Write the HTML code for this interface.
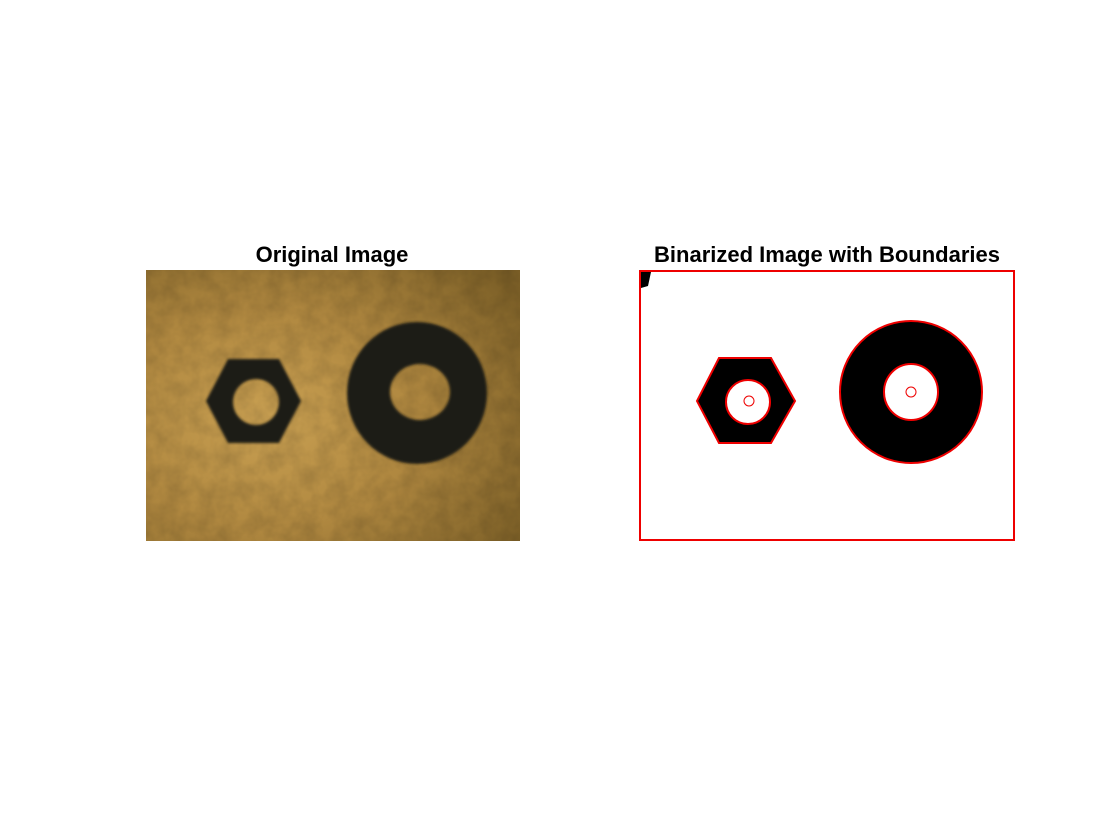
<!DOCTYPE html>
<html><head><meta charset="utf-8"><style>
html,body{margin:0;padding:0;background:#fff;}
svg{display:block;font-family:"Liberation Sans",Arial,sans-serif;}
</style></head><body>
<svg width="1120" height="840" viewBox="0 0 1120 840">
<defs>
<radialGradient id="bg" cx="0.32" cy="0.55" r="0.8">
<stop offset="0" stop-color="#c9a052"/>
<stop offset="0.5" stop-color="#b08840"/>
<stop offset="1" stop-color="#7e6128"/>
</radialGradient>
<filter id="blur"><feGaussianBlur stdDeviation="1.2"/></filter>
<filter id="noise" x="0" y="0" width="1" height="1">
<feTurbulence type="fractalNoise" baseFrequency="0.06" numOctaves="3" seed="4"/>
<feColorMatrix type="matrix" values="0 0 0 0 0  0 0 0 0 0  0 0 0 0 0  0 0 0 0.35 -0.1"/>
<feComposite in2="SourceGraphic" operator="in"/>
</filter>
</defs>

<text x="332" y="262" font-size="22" font-weight="bold" text-anchor="middle">Original Image</text>
<g>
<rect x="146" y="270" width="374" height="271" fill="url(#bg)"/>
<rect x="146" y="270" width="374" height="271" fill="#3a2a10" filter="url(#noise)" opacity="0.6"/>
<g filter="url(#blur)">
<path d="M206,401 L228,359 L279,359 L301,401 L279,443 L228,443 Z M233,402 A23,23 0 1,0 279,402 A23,23 0 1,0 233,402 Z" fill="#1c1a14" fill-rule="evenodd"/>
<path d="M347,393 A70,71 0 1,0 487,393 A70,71 0 1,0 347,393 Z M390,392 A30,28 0 1,0 450,392 A30,28 0 1,0 390,392 Z" fill="#1c1a14" fill-rule="evenodd"/>
</g>
</g>

<text x="827" y="262" font-size="22" font-weight="bold" text-anchor="middle">Binarized Image with Boundaries</text>
<g>
<rect x="639" y="270" width="376" height="271" fill="#fff"/>
<path d="M641,272 L651,272 L648,286 L641,288 Z" fill="#000"/>
<path d="M697,401 L719,358 L771,358 L795,401 L771,443 L719,443 Z M726,402 A22,22 0 1,0 770,402 A22,22 0 1,0 726,402 Z" fill="#000" fill-rule="evenodd" stroke="#e00" stroke-width="2"/>
<path d="M840,392 A71,71 0 1,0 982,392 A71,71 0 1,0 840,392 Z M884,392 A27,28 0 1,0 938,392 A27,28 0 1,0 884,392 Z" fill="#000" fill-rule="evenodd" stroke="#e00" stroke-width="2"/>
<circle cx="749" cy="401" r="5" fill="none" stroke="#e00" stroke-width="1"/>
<circle cx="911" cy="392" r="5" fill="none" stroke="#e00" stroke-width="1"/>
<rect x="640" y="271" width="374" height="269" fill="none" stroke="#e00" stroke-width="2"/>
</g>
</svg>
</body></html>
